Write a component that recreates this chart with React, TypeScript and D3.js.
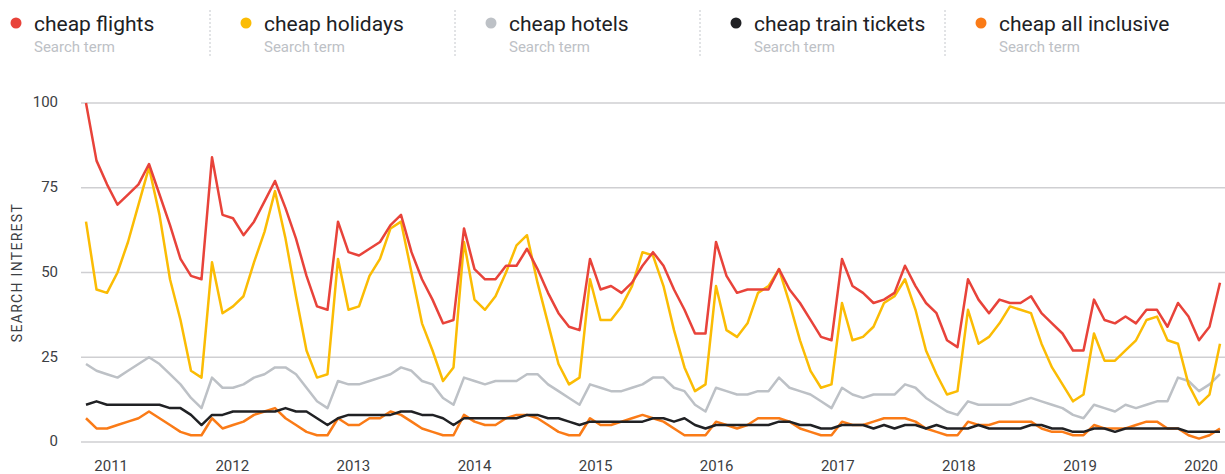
import * as d3 from "d3";

// monthly search interest, Jan 2011 .. Jan 2020
const flights = [
  100, 83, 76, 70, 73, 76, 82, 73, 64, 54, 49, 48,
  84, 67, 66, 61, 65, 71, 77, 69, 60, 49, 40, 39,
  65, 56, 55, 57, 59, 64, 67, 56, 48, 42, 35, 36,
  63, 51, 48, 48, 52, 52, 57, 51, 44, 38, 34, 33,
  54, 45, 46, 44, 47, 52, 56, 52, 45, 39, 32, 32,
  59, 49, 44, 45, 45, 45, 51, 45, 41, 36, 31, 30,
  54, 46, 44, 41, 42, 44, 52, 46, 41, 38, 30, 28,
  48, 42, 38, 42, 41, 41, 43, 38, 35, 32, 27, 27,
  42, 36, 35, 37, 35, 39, 39, 34, 41, 37, 30, 34,
  47,
];
const holidays = [
  65, 45, 44, 50, 59, 70, 81, 67, 48, 36, 21, 19,
  53, 38, 40, 43, 53, 62, 74, 60, 43, 27, 19, 20,
  54, 39, 40, 49, 54, 63, 65, 50, 35, 27, 18, 22,
  59, 42, 39, 43, 50, 58, 61, 47, 35, 23, 17, 19,
  48, 36, 36, 40, 46, 56, 55, 46, 33, 22, 15, 17,
  46, 33, 31, 35, 44, 46, 51, 41, 30, 21, 16, 17,
  41, 30, 31, 34, 41, 43, 48, 39, 27, 20, 14, 15,
  39, 29, 31, 35, 40, 39, 38, 29, 22, 17, 12, 14,
  32, 24, 24, 27, 30, 36, 37, 30, 29, 17, 11, 14,
  29,
];
const hotels = [
  23, 21, 20, 19, 21, 23, 25, 23, 20, 17, 13, 10,
  19, 16, 16, 17, 19, 20, 22, 22, 20, 16, 12, 10,
  18, 17, 17, 18, 19, 20, 22, 21, 18, 17, 13, 11,
  19, 18, 17, 18, 18, 18, 20, 20, 17, 15, 13, 11,
  17, 16, 15, 15, 16, 17, 19, 19, 16, 15, 11, 9,
  16, 15, 14, 14, 15, 15, 19, 16, 15, 14, 12, 10,
  16, 14, 13, 14, 14, 14, 17, 16, 13, 11, 9, 8,
  12, 11, 11, 11, 11, 12, 13, 12, 11, 10, 8, 7,
  11, 10, 9, 11, 10, 11, 12, 12, 19, 18, 15, 17,
  20,
];
const trainTickets = [
  11, 12, 11, 11, 11, 11, 11, 11, 10, 10, 8, 5,
  8, 8, 9, 9, 9, 9, 9, 10, 9, 9, 7, 5,
  7, 8, 8, 8, 8, 8, 9, 9, 8, 8, 7, 5,
  7, 7, 7, 7, 7, 7, 8, 8, 7, 7, 6, 5,
  6, 6, 6, 6, 6, 6, 7, 7, 6, 7, 5, 4,
  5, 5, 5, 5, 5, 5, 6, 6, 5, 5, 4, 4,
  5, 5, 5, 4, 5, 4, 5, 5, 4, 5, 4, 4,
  4, 5, 4, 4, 4, 4, 5, 5, 4, 4, 3, 3,
  4, 4, 3, 4, 4, 4, 4, 4, 4, 3, 3, 3,
  3,
];
const allInclusive = [
  7, 4, 4, 5, 6, 7, 9, 7, 5, 3, 2, 2,
  7, 4, 5, 6, 8, 9, 10, 7, 5, 3, 2, 2,
  7, 5, 5, 7, 7, 9, 8, 6, 4, 3, 2, 2,
  8, 6, 5, 5, 7, 8, 8, 7, 5, 3, 2, 2,
  7, 5, 5, 6, 7, 8, 7, 6, 4, 2, 2, 2,
  6, 5, 4, 5, 7, 7, 7, 6, 4, 3, 2, 2,
  6, 5, 5, 6, 7, 7, 7, 6, 4, 3, 2, 2,
  6, 5, 5, 6, 6, 6, 6, 4, 3, 3, 2, 2,
  5, 4, 4, 4, 5, 6, 6, 4, 4, 2, 1, 2,
  4,
];

const terms = ["cheap flights", "cheap holidays", "cheap hotels", "cheap train tickets", "cheap all inclusive"];
const colors = ["#e8433a", "#fbbc04", "#bdc1c6", "#202124", "#fa7b17"];
const seriesValues = [flights, holidays, hotels, trainTickets, allInclusive];
const yearLabels = ["2011", "2012", "2013", "2014", "2015", "2016", "2017", "2018", "2019", "2020"];
const yTicks = [0, 25, 50, 75, 100];

const W = 1225;
const H = 474;
const margin = { left: 86, right: 5, top: 103, bottom: 32 };
const FONT = "Roboto, 'Noto Sans', sans-serif";

export default function App() {
  const n = flights.length;
  const x = d3.scaleLinear().domain([0, n - 1]).range([margin.left, W - margin.right]);
  const y = d3.scaleLinear().domain([0, 100]).range([H - margin.bottom, margin.top]);
  const yearX = d3.scalePoint<string>().domain(yearLabels).range([x(2.4), x(106.2)]);
  const line = d3.line<number>().x((_, i) => x(i)).y((d) => y(d));

  // legend layout: separators every 245px, first item flush left
  const legendX = (k: number) => (k === 0 ? 16 : 210 + 245 * (k - 1) + 36);

  return (
    <div style={{ position: "fixed", left: 0, top: 0 }}>
      <svg width={W} height={H} style={{ display: "block", background: "#fff" }} fontFamily={FONT}>
        {/* legend */}
        {terms.map((t, k) => (
          <g key={t}>
            {k > 0 && (
              <line x1={210 + 245 * (k - 1)} x2={210 + 245 * (k - 1)} y1={10} y2={58}
                stroke="#c4c7cc" strokeWidth={1} strokeDasharray="2,2" />
            )}
            <circle cx={legendX(k)} cy={23} r={5.5} fill={colors[k]} />
            <text x={legendX(k) + 18} y={31} fontSize={21} fill="#202124">{t}</text>
            <text x={legendX(k) + 18} y={52} fontSize={15} fill="#bdc1c6">Search term</text>
          </g>
        ))}

        {/* grid + y labels */}
        {yTicks.map((t) => (
          <g key={t}>
            <line x1={81} x2={W} y1={y(t)} y2={y(t)} stroke="#cfcfd2" strokeWidth={1.5} />
            <text x={58} y={y(t) - 1} dy="0.35em" textAnchor="end" fontSize={15} fill="#3c4043">{t}</text>
          </g>
        ))}
        <text transform={`translate(22, ${y(50)}) rotate(-90)`} textAnchor="middle" fontSize={14}
          letterSpacing={1.3} fill="#3c4043">SEARCH INTEREST</text>

        {/* x labels */}
        {yearLabels.map((yr) => (
          <text key={yr} x={yearX(yr)} y={471} textAnchor="middle" fontSize={15} fill="#3c4043">{yr}</text>
        ))}

        {/* series, last drawn on top */}
        {seriesValues.map((_, k) => seriesValues.length - 1 - k).map((k) => (
          <path key={terms[k]} d={line(seriesValues[k]) ?? ""} fill="none" stroke={colors[k]}
            strokeWidth={2.5} strokeLinejoin="round" />
        ))}
      </svg>
    </div>
  );
}
